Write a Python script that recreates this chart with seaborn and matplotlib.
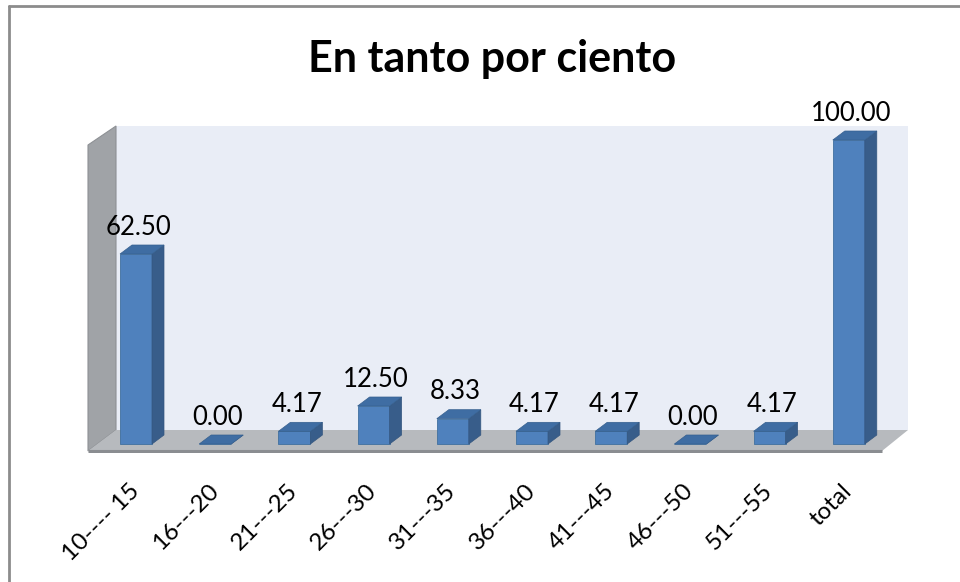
import numpy as np
import pandas as pd
import seaborn as sns
import matplotlib.pyplot as plt
from matplotlib.patches import Polygon, Rectangle
from matplotlib.lines import Line2D

categories = ["10---- 15", "16---20", "21---25", "26---30", "31---35",
              "36---40", "41---45", "46---50", "51---55", "total"]
values = [62.50, 0.00, 4.17, 12.50, 8.33, 4.17, 4.17, 0.00, 4.17, 100.00]
value_labels = [f"{v:.2f}" for v in values]
title = "En tanto por ciento"

sns.set_theme(style="white")
plt.rcParams['font.family'] = ['Lato', 'DejaVu Sans']

W, H = 960, 582
fig = plt.figure(figsize=(W / 100, H / 100), dpi=100)
fig.patch.set_facecolor('white')

# layout in pixels
x_c0, x_step = 136.0, 79.2
y_base, y_scale = 444.0, 3.04
xlim = (-0.65, 9.8)
ylim = (-3.0, 105.5)
px_l = x_c0 + xlim[0] * x_step
px_r = x_c0 + xlim[1] * x_step
py_b = y_base - ylim[0] * y_scale
py_t = y_base - ylim[1] * y_scale
ax = fig.add_axes([px_l / W, 1 - py_b / H, (px_r - px_l) / W, (py_b - py_t) / H])


def px2x(px):
    return (px - x_c0) / x_step


def px2y(py):
    return (y_base - py) / y_scale


df = pd.DataFrame({"cat": categories, "val": values})
sns.barplot(data=df, x="cat", y="val", color="#4F81BD", saturation=1,
            width=0.404, ax=ax, edgecolor="#41709F", linewidth=0.6, zorder=4)
bars = list(ax.patches)

ax.set_xlim(*xlim)
ax.set_ylim(*ylim)
ax.set_facecolor('none')
for s in ax.spines.values():
    s.set_visible(False)
ax.set_yticks([])
ax.set_xlabel("")
ax.set_ylabel("")

# 3D frame: back wall, left wall, floor
wl, wr = px2x(116), px2x(908)
fl, fr = px2x(88), px2x(882)
yb_back, yb_front = px2y(430), px2y(451)
yt_back, yt_front = px2y(126), px2y(145)
ax.add_patch(Rectangle((wl, yb_back), wr - wl, yt_back - yb_back,
                       facecolor="#E9EDF6", edgecolor="none", zorder=0))
ax.add_patch(Polygon([(fl, yb_front), (fl, yt_front), (wl, yt_back), (wl, yb_back)],
                     closed=True, facecolor="#A0A3A7", edgecolor="#8E9195",
                     lw=0.8, zorder=1))
ax.add_patch(Polygon([(fl, yb_front), (fr, yb_front), (wr, yb_back), (wl, yb_back)],
                     closed=True, facecolor="#B7BABE", edgecolor="none", zorder=1))
ax.plot([fl, fr], [yb_front, yb_front], color="#8A8D91", lw=2.2, zorder=1.5,
        solid_capstyle='butt')

# bar depth faces
dx = 12 / x_step
dy = 9 / y_scale
for p, lab in zip(bars, value_labels):
    x0, w, h = p.get_x(), p.get_width(), p.get_height()
    side = Polygon([(x0 + w, 0), (x0 + w, h), (x0 + w + dx, h + dy), (x0 + w + dx, dy)],
                   closed=True, facecolor="#385D8A", edgecolor="#34567F", lw=0.5, zorder=4)
    top = Polygon([(x0, h), (x0 + w, h), (x0 + w + dx, h + dy), (x0 + dx, h + dy)],
                  closed=True, facecolor="#3F6DA3", edgecolor="#36608F", lw=0.5, zorder=5)
    ax.add_patch(side)
    ax.add_patch(top)
    ax.text(x0 + w / 2 + dx * 0.2, h + dy + 3.4, lab, ha='center', va='baseline',
            fontsize=18.5, color='black', zorder=6)

ax.tick_params(axis='x', length=0, pad=25, labelsize=17.5, colors='black')
for t in ax.get_xticklabels():
    t.set_rotation(45)
    t.set_ha('right')
    t.set_va('center')
    t.set_rotation_mode('anchor')

fig.text(492.5 / W, 1 - 72 / H, title, ha='center', va='baseline',
         fontsize=31, fontweight='bold', color='black')

# outer frame (top and left edges)
fig.add_artist(Line2D([8.5 / W, 1], [1 - 5.5 / H, 1 - 5.5 / H], color="#8C8C8C", lw=2))
fig.add_artist(Line2D([8.5 / W, 8.5 / W], [0, 1 - 5.5 / H], color="#8C8C8C", lw=2))

fig.savefig("out.png", dpi=100, facecolor='white')
